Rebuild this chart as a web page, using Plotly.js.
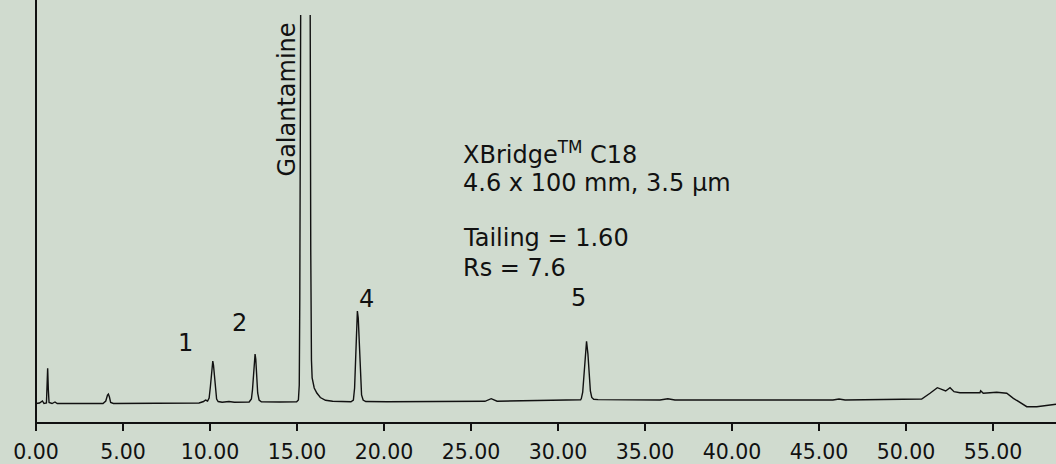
<!DOCTYPE html>
<html>
<head>
<meta charset="utf-8">
<script src="https://cdn.plot.ly/plotly-3.0.1.min.js"></script>
<style>
  html, body { margin: 0; padding: 0; background: #d0dbcf; }
  #chart { width: 1056px; height: 464px; }
</style>
</head>
<body>
<div id="chart"></div>
<script>
// Retention time (min) and detector response (AU)
const retentionTime = [
  0.00, 0.20, 0.37, 0.46, 0.60, 0.64, 0.67, 0.71, 0.75, 0.92, 1.09, 1.22, 2.22, 2.50,
  3.85, 4.01, 4.11, 4.16, 4.22, 4.29, 4.45, 6.00, 7.07, 8.00, 9.37, 9.63, 9.74, 9.86,
  9.95, 10.02, 10.08, 10.13, 10.16, 10.20, 10.25, 10.31, 10.38, 10.47, 10.70, 11.09, 11.40,
  12.25, 12.38, 12.44, 12.50, 12.55, 12.59, 12.63, 12.68, 12.74, 12.82, 12.95, 14.00,
  14.98, 15.08, 15.13, 15.16, 15.19, 15.21, 15.46, 15.74, 15.76, 15.79, 15.83, 15.87,
  15.99, 16.14, 16.34, 16.64, 17.05, 17.64, 18.10,
  18.24, 18.31, 18.37, 18.42, 18.47, 18.52, 18.58, 18.64, 18.71, 18.80, 18.95,
  20.17, 20.92, 25.80, 26.16, 26.50, 31.30,
  31.34, 31.42, 31.49, 31.56, 31.64, 31.72, 31.79, 31.86, 31.94, 32.05, 32.30,
  35.86, 36.31, 36.72, 45.80, 46.15, 46.50, 50.52, 50.90,
  51.38, 51.80, 52.05, 52.28, 52.53, 52.76, 53.10, 54.25, 54.29, 54.44,
  55.21, 55.79, 56.17, 56.55, 56.94, 57.51, 58.62
];
const absorbance = [
  0.0005, 0.001, 0.003, 0.0005, 0.001, 0.019, 0.0357, 0.014, 0.0015, 0.0005, 0.002, 0.0005, 0.001, 0.0005,
  0.0005, 0.003, 0.009, 0.010, 0.007, 0.0015, 0.0005, 0.0007, 0.001, 0.0005, 0.001, 0.0025, 0.004, 0.003,
  0.006, 0.017, 0.033, 0.042, 0.043, 0.039, 0.027, 0.013, 0.005, 0.0025, 0.0017, 0.0025, 0.0017,
  0.002, 0.005, 0.014, 0.033, 0.047, 0.050, 0.045, 0.028, 0.011, 0.004, 0.0023, 0.002,
  0.0023, 0.004, 0.019, 0.104, 0.304, 0.389, 2.6, 0.389, 0.304, 0.154, 0.044, 0.026,
  0.016, 0.011, 0.0065, 0.0037, 0.0027, 0.0023, 0.0023,
  0.004, 0.016, 0.045, 0.078, 0.093, 0.086, 0.058, 0.026, 0.009, 0.004, 0.0025,
  0.0023, 0.0023, 0.0027, 0.0053, 0.0028, 0.0042,
  0.0054, 0.0119, 0.0272, 0.0491, 0.0627, 0.050, 0.028, 0.013, 0.0065, 0.0048, 0.0044,
  0.004, 0.0053, 0.004, 0.004, 0.005, 0.004, 0.0045, 0.005,
  0.0107, 0.0163, 0.0147, 0.013, 0.0163, 0.0123, 0.0113, 0.0113, 0.0133, 0.0107,
  0.0117, 0.0107, 0.0057, 0.0013, -0.0027, -0.0027, -0.0003
];

const tickValues = [0, 5, 10, 15, 20, 25, 30, 35, 40, 45, 50, 55];
const tickLabels = ["0.00", "5.00", "10.00", "15.00", "20.00", "25.00", "30.00",
                    "35.00", "40.00", "45.00", "50.00", "55.00"];

const peakLabels = ["1", "2", "4", "5"];
const peakLabelTime = [8.62, 11.72, 18.97, 31.17];
const peakLabelSignal = [0.0615, 0.0807, 0.1055, 0.1057];

const infoLines = ["XBridge<sup>TM</sup> C18", "4.6 x 100 mm, 3.5 µm", "Tailing = 1.60", "Rs = 7.6"];
const infoSignal = [0.251, 0.221, 0.166, 0.136];

const FONT = "DejaVu Sans, Verdana, sans-serif";
const INK = "#111111";
const BG = "#d0dbcf";

const annotations = [];
peakLabels.forEach((t, i) => {
  annotations.push({
    x: peakLabelTime[i], y: peakLabelSignal[i], xref: "x", yref: "y",
    text: t, showarrow: false, xanchor: "center", yanchor: "middle",
    font: {family: FONT, size: 24, color: INK}
  });
});
annotations.push({
  x: 14.45, y: 0.305, xref: "x", yref: "y", text: "Galantamine", textangle: -90,
  showarrow: false, xanchor: "center", yanchor: "middle",
  font: {family: FONT, size: 24, color: INK}
});
infoLines.forEach((t, i) => {
  annotations.push({
    x: 24.43, y: infoSignal[i], xref: "x", yref: "y", text: t,
    showarrow: false, xanchor: "left", yanchor: "middle",
    font: {family: FONT, size: 24, color: INK}
  });
});

const trace = {
  x: retentionTime, y: absorbance, type: "scatter", mode: "lines",
  line: {color: INK, width: 1.4}, hoverinfo: "skip"
};

const layout = {
  width: 1056, height: 464,
  margin: {l: 36, r: 0, t: 15, b: 42, pad: 0},
  paper_bgcolor: BG, plot_bgcolor: BG,
  showlegend: false,
  xaxis: {
    range: [0, 58.62], showgrid: false, zeroline: false,
    showline: true, linecolor: INK, linewidth: 2,
    ticks: "outside", ticklen: 7, tickwidth: 2, tickcolor: INK,
    tickmode: "array", tickvals: tickValues, ticktext: tickLabels,
    ticklabelstandoff: 3,
    tickfont: {family: FONT, size: 20.5, color: INK}
  },
  yaxis: {
    range: [-0.018, 0.389], showgrid: false, zeroline: false,
    showline: false, showticklabels: false, ticks: ""
  },
  shapes: [{
    type: "line", xref: "paper", yref: "paper", x0: 0, x1: 0, y0: -0.005, y1: 1.04,
    line: {color: INK, width: 2}
  }],
  annotations: annotations
};

Plotly.newPlot("chart", [trace], layout, {displayModeBar: false, staticPlot: true});
</script>
</body>
</html>
